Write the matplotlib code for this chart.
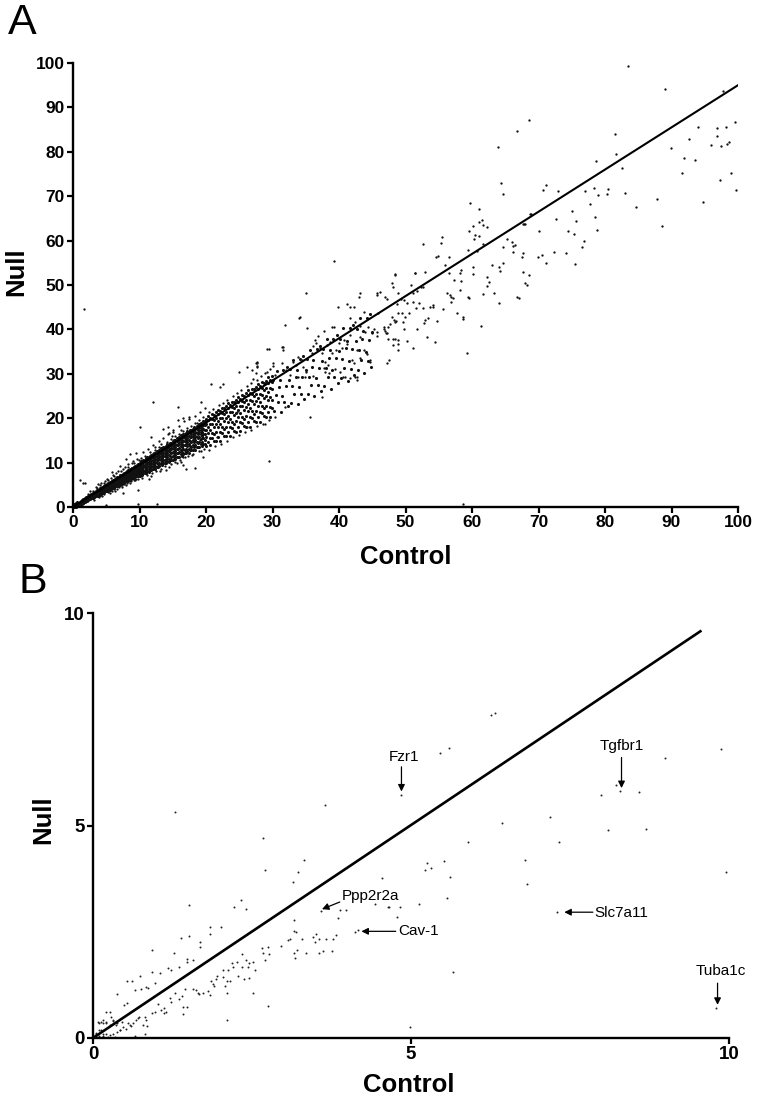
import numpy as np
import matplotlib
matplotlib.use("Agg")
import matplotlib.pyplot as plt

plt.rcParams['font.family'] = ['Liberation Sans', 'DejaVu Sans']

# ---------------- Panel A data (Control vs Null, 0-100) ----------------
# dense core, x 0-3
a_core0 = [(0.05,0.0),(0.1,0.1),(0.15,0.3),(0.2,0.05),(0.2,0.7),(0.25,0.4),(0.3,0.2),(0.35,0.6),(0.4,0.3),(0.4,0.9),
           (0.45,0.1),(0.5,0.5),(0.55,0.8),(0.6,0.4),(0.6,1.2),(0.65,0.2),(0.7,0.7),(0.75,0.5),(0.8,1.0),(0.85,0.6),
           (0.9,0.3),(0.95,0.9),(1.0,0.8),(1.05,1.2),(1.1,0.6),(1.15,1.0),(1.2,0.9),(1.25,1.4),(1.3,0.7),(1.35,1.1),
           (1.4,1.5),(1.45,0.9),(1.5,1.3),(1.55,1.7),(1.6,1.1),(1.65,1.4),(1.7,1.9),(1.75,1.2),(1.8,1.6),(1.85,2.0),
           (1.9,1.3),(1.95,1.7),(2.0,2.2),(2.05,1.5),(2.1,1.8),(2.15,2.3),(2.2,1.6),(2.25,2.0),(2.3,2.5),(2.35,1.7),
           (2.4,2.1),(2.45,2.6),(2.5,1.9),(2.55,2.3),(2.6,2.8),(2.65,2.0),(2.7,2.4),(2.75,2.9),(2.8,2.1),(2.85,2.6),
           (2.9,3.0),(2.95,2.3),(0.1,0.25),(0.3,0.45),(0.5,0.3),(0.7,0.45),(0.9,0.75),(1.1,0.9),(1.3,1.2),(1.5,1.0),
           (1.7,1.5),(1.9,1.75),(2.1,1.4),(2.3,2.1),(2.5,2.35),(2.7,2.15),(2.9,2.6),(1.0,0.5),(1.4,1.2),(1.8,1.4),
           (2.2,2.0),(2.6,2.5),(2.8,2.4),(0.6,0.7),(0.8,0.5),(1.2,1.15)]
# dense core columns, x 3-10 : (control, [null values])
a_core1 = [(3.0,[2.07,2.40,2.68,2.90,3.10]),(3.1,[2.26,2.60,2.82,3.09,3.25]),(3.2,[2.17,2.47,2.77,3.00,3.24]),
           (3.3,[2.48,2.70,3.04,3.23,3.41]),(3.4,[2.43,2.68,2.98,3.23,3.45]),(3.5,[2.44,2.81,3.12,3.36,3.59]),
           (3.6,[2.65,3.02,3.27,3.56,3.74]),(3.7,[2.54,2.87,3.19,3.45,3.71]),(3.8,[2.87,3.11,3.48,3.69,3.89]),
           (3.9,[2.81,3.08,3.42,3.69,3.93]),(4.0,[2.81,3.21,3.55,3.81,4.06]),(4.1,[3.04,3.44,3.71,4.03,4.22]),
           (4.2,[2.91,3.27,3.62,3.90,4.19]),(4.3,[3.27,3.53,3.93,4.16,4.38]),(4.4,[3.19,3.48,3.85,4.14,4.40]),
           (4.5,[3.19,3.62,4.00,4.28,4.55]),(4.6,[3.43,3.86,4.15,4.50,4.71]),(4.7,[3.28,3.66,4.05,4.35,4.66]),
           (4.8,[3.66,3.94,4.37,4.62,4.85]),(4.9,[3.57,3.89,4.28,4.60,4.88]),(5.0,[3.56,4.03,4.43,4.73,5.02]),
           (5.1,[3.81,4.28,4.59,4.96,5.19]),(5.2,[3.65,4.06,4.48,4.81,5.14]),(5.3,[4.05,4.35,4.82,5.09,5.34]),
           (5.4,[3.95,4.29,4.71,5.05,5.35]),(5.5,[3.94,4.44,4.87,5.19,5.50]),(5.6,[4.20,4.71,5.04,5.44,5.68]),
           (5.7,[4.02,4.46,4.90,5.25,5.60]),(5.8,[4.45,4.77,5.26,5.55,5.82]),(5.9,[4.33,4.69,5.15,5.51,5.84]),
           (6.0,[4.31,4.84,5.30,5.65,5.98]),(6.1,[4.59,5.12,5.48,5.90,6.16]),(6.2,[4.39,4.86,5.33,5.71,6.08]),
           (6.3,[4.84,5.18,5.71,6.02,6.30]),(6.4,[4.71,5.10,5.58,5.96,6.31]),(6.5,[4.69,5.25,5.74,6.11,6.46]),
           (6.6,[4.98,5.55,5.92,6.37,6.65]),(6.7,[4.76,5.26,5.76,6.15,6.55]),(6.8,[5.23,5.59,6.16,6.48,6.78]),
           (6.9,[5.09,5.50,6.01,6.42,6.79]),(7.0,[5.06,5.66,6.17,6.57,6.94]),(7.1,[5.36,5.97,6.36,6.84,7.13]),
           (7.2,[5.13,5.66,6.19,6.61,7.03]),(7.3,[5.63,6.01,6.61,6.95,7.27]),(7.4,[5.47,5.90,6.44,6.87,7.26]),
           (7.5,[5.44,6.07,6.61,7.03,7.42]),(7.6,[5.75,6.39,6.81,7.31,7.62]),(7.7,[5.50,6.06,6.61,7.05,7.50]),
           (7.8,[6.02,6.42,7.05,7.41,7.74]),(7.9,[5.85,6.31,6.88,7.33,7.74]),(8.0,[5.81,6.48,7.05,7.48,7.90]),
           (8.1,[6.14,6.81,7.25,7.78,8.10]),(8.2,[5.87,6.46,7.04,7.51,7.98]),(8.3,[6.41,6.84,7.50,7.88,8.23]),
           (8.4,[6.23,6.71,7.31,7.78,8.21]),(8.5,[6.19,6.89,7.49,7.95,8.38]),(8.6,[6.52,7.23,7.69,8.25,8.59]),
           (8.7,[6.24,6.85,7.47,7.96,8.45]),(8.8,[6.80,7.25,7.94,8.34,8.71]),(8.9,[6.61,7.12,7.74,8.24,8.69]),
           (9.0,[6.56,7.29,7.92,8.40,8.85]),(9.1,[6.91,7.65,8.13,8.71,9.07]),(9.2,[6.61,7.25,7.90,8.41,8.92]),
           (9.3,[7.20,7.66,8.39,8.80,9.19]),(9.4,[6.99,7.52,8.17,8.69,9.16]),(9.5,[6.94,7.70,8.36,8.86,9.34]),
           (9.6,[7.30,8.07,8.58,9.19,9.56]),(9.7,[6.98,7.65,8.32,8.86,9.39]),(9.8,[7.59,8.08,8.83,9.26,9.67]),
           (9.9,[7.38,7.92,8.60,9.15,9.64])]
# dense band columns, x 10-20
a_core2 = [(10.0,[7.00,7.67,8.34,8.92,9.46,9.97]),(10.2,[7.43,8.11,8.73,9.32,9.87,10.29]),
           (10.4,[7.19,7.78,8.51,9.10,9.70,10.23]),(10.6,[7.60,8.30,8.94,9.57,10.14,10.61]),
           (10.8,[7.65,8.19,8.94,9.55,10.13,10.68]),(11.0,[7.72,8.45,9.17,9.79,10.38,10.93]),
           (11.2,[8.18,8.92,9.58,10.21,10.81,11.26]),(11.4,[7.91,8.55,9.33,9.97,10.61,11.18]),
           (11.6,[8.34,9.09,9.78,10.46,11.07,11.58]),(11.8,[8.38,8.97,9.77,10.43,11.05,11.63]),
           (12.0,[8.45,9.23,10.01,10.67,11.30,11.89]),(12.2,[8.93,9.72,10.43,11.11,11.74,12.23]),
           (12.4,[8.63,9.31,10.15,10.83,11.52,12.13]),(12.6,[9.08,9.89,10.62,11.35,12.00,12.54]),
           (12.8,[9.12,9.74,10.60,11.30,11.96,12.59]),(13.0,[9.18,10.01,10.84,11.55,12.22,12.85]),
           (13.2,[9.68,10.52,11.28,12.00,12.68,13.20]),(13.4,[9.35,10.08,10.97,11.70,12.43,13.08]),
           (13.6,[9.82,10.68,11.46,12.24,12.93,13.51]),(13.8,[9.85,10.51,11.42,12.17,12.88,13.54]),
           (14.0,[9.91,10.79,11.67,12.43,13.14,13.81]),(14.2,[10.43,11.32,12.13,12.90,13.62,14.17]),
           (14.4,[10.07,10.84,11.79,12.56,13.34,14.03]),(14.6,[10.56,11.47,12.30,13.12,13.86,14.47]),
           (14.8,[10.58,11.28,12.25,13.04,13.79,14.50]),(15.0,[10.63,11.57,12.50,13.30,14.06,14.77]),
           (15.2,[11.18,12.13,12.98,13.79,14.56,15.14]),(15.4,[10.79,11.61,12.61,13.43,14.25,14.98]),
           (15.6,[11.30,12.26,13.14,14.01,14.79,15.44]),(15.8,[11.31,12.06,13.08,13.92,14.71,15.45]),
           (16.0,[11.36,12.35,13.34,14.18,14.98,15.73]),(16.2,[11.93,12.93,13.83,14.69,15.49,16.11]),
           (16.4,[11.51,12.37,13.43,14.29,15.16,15.93]),(16.6,[12.04,13.06,13.98,14.90,15.72,16.40]),
           (16.8,[12.05,12.83,13.91,14.79,15.62,16.41]),(17.0,[12.09,13.13,14.17,15.06,15.90,16.69]),
           (17.2,[12.68,13.73,14.68,15.58,16.43,17.08]),(17.4,[12.23,13.14,14.25,15.16,16.07,16.88]),
           (17.6,[12.78,13.85,14.82,15.79,16.65,17.37]),(17.8,[12.78,13.60,14.73,15.66,16.54,17.36]),
           (18.0,[12.82,13.91,15.00,15.94,16.82,17.65]),(18.2,[13.43,14.53,15.53,16.48,17.37,18.05]),
           (18.4,[12.95,13.90,15.07,16.02,16.98,17.83]),(18.6,[13.52,14.64,15.66,16.67,17.58,18.33]),
           (18.8,[13.51,14.37,15.56,16.53,17.45,18.32]),(19.0,[13.54,14.69,15.83,16.81,17.74,18.61]),
           (19.2,[14.18,15.34,16.38,17.37,18.31,19.02]),(19.4,[13.67,14.67,15.89,16.89,17.89,18.78]),
           (19.6,[14.26,15.43,16.50,17.56,18.51,19.30]),(19.8,[14.24,15.15,16.39,17.41,18.37,19.27])]
# band columns, x 20-30
a_core3 = [(20.0,[13.77,15.71,17.39,18.66,19.87]),(20.3,[14.73,16.69,17.98,19.54,20.49]),
           (20.6,[13.92,15.64,17.35,18.72,20.09]),(20.9,[15.52,16.77,18.71,19.82,20.86]),
           (21.2,[14.97,16.38,18.13,19.53,20.80]),(21.5,[14.83,16.90,18.67,20.02,21.30]),
           (21.8,[15.84,17.92,19.29,20.94,21.95]),(22.1,[14.97,16.79,18.61,20.06,21.51]),
           (22.4,[16.65,17.97,20.03,21.21,22.31]),(22.7,[16.06,17.54,19.40,20.89,22.23]),
           (23.0,[15.90,18.08,19.96,21.38,22.73]),(23.3,[16.95,19.15,20.59,22.34,23.40]),
           (23.6,[16.02,17.94,19.86,21.39,22.92]),(23.9,[17.78,19.18,21.35,22.59,23.75]),
           (24.2,[17.14,18.71,20.67,22.23,23.64]),(24.5,[16.97,19.26,21.24,22.75,24.17]),
           (24.8,[18.06,20.38,21.90,23.74,24.86]),(25.1,[17.07,19.09,21.11,22.73,24.34]),
           (25.4,[18.91,20.38,22.67,23.97,25.20]),(25.7,[18.23,19.88,21.94,23.59,25.07]),
           (26.0,[18.03,20.45,22.53,24.11,25.60]),(26.3,[19.17,21.61,23.20,25.13,26.31]),
           (26.6,[18.12,20.24,22.36,24.06,25.75]),(26.9,[20.04,21.58,23.98,25.35,26.63]),
           (27.2,[19.32,21.05,23.21,24.93,26.49]),(27.5,[19.10,21.63,23.81,25.47,27.04]),
           (27.8,[20.28,22.84,24.51,26.54,27.77]),(28.1,[19.17,21.39,23.62,25.39,27.17]),
           (28.4,[21.17,22.79,25.30,26.74,28.08]),(28.7,[20.40,22.21,24.48,26.29,27.92]),
           (29.0,[20.17,22.81,25.10,26.83,28.47]),(29.3,[21.39,24.06,25.81,27.93,29.22]),
           (29.6,[20.22,22.54,24.87,26.72,28.58]),(29.9,[22.30,23.99,26.61,28.11,29.52])]
# band points, x 30-45
a_core4 = [(30.3,21.71),(30.5,25.20),(30.15,28.69),(30.8,23.59),(31.0,27.13),(30.65,30.67),(31.3,21.41),(31.5,25.00),
           (31.15,28.59),(31.8,23.63),(32.0,27.16),(31.65,30.90),(32.3,22.64),(32.5,28.63),(32.15,31.58),(32.8,23.53),
           (33.0,27.26),(32.65,30.99),(33.3,25.51),(33.5,29.28),(33.15,33.06),(33.8,23.16),(34.0,26.99),(33.65,30.81),
           (34.3,25.50),(34.5,29.26),(34.15,33.24),(34.8,24.42),(35.0,30.80),(34.65,33.94),(35.3,25.34),(35.5,29.31),
           (35.15,33.27),(35.8,27.43),(36.0,31.44),(35.65,35.46),(36.3,24.91),(36.5,28.97),(36.15,33.03),(36.8,27.37),
           (37.0,31.36),(36.65,35.59),(37.3,26.20),(37.5,32.97),(37.15,36.29),(37.8,27.16),(38.0,31.36),(37.65,35.57),
           (38.3,29.35),(38.5,33.59),(38.15,37.84),(38.8,26.66),(39.0,30.96),(38.65,35.26),(39.3,29.24),(39.5,33.46),
           (39.15,37.93),(39.8,27.99),(40.0,35.14),(39.65,38.66),(40.3,28.98),(40.5,33.42),(40.15,37.85),(40.8,31.27),
           (41.0,35.75),(40.65,40.24),(41.3,28.41),(41.5,32.94),(41.15,37.48),(41.8,31.12),(42.0,35.57),(41.65,40.28),
           (42.3,29.77),(42.5,37.31),(42.15,41.01),(42.8,30.80),(43.0,35.47),(42.65,40.15),(43.3,33.18),(43.5,37.90),
           (43.15,42.63),(43.8,30.16),(44.0,34.93),(43.65,39.70),(44.3,32.99),(44.5,37.67),(44.15,42.62),(44.8,31.56),
           (45.0,39.48),(44.65,43.37)]
# scattered points around the core
a_scatter = [(3.5,4.6),(4.2,5.3),(5.1,6.3),(6.0,7.2),(6.8,8.0),(7.5,8.6),(8.3,9.6),(9.0,10.3),(9.6,10.9),(4.4,2.5),
             (5.5,3.2),(6.6,4.0),(7.4,4.6),(8.5,5.4),(9.3,6.0),(8.0,10.9),(8.6,11.9),(9.4,12.2),(7.0,9.3),(5.9,7.8),
             (6.3,3.6),(7.9,5.0),(9.7,6.4),(2.5,3.6),(3.8,5.1),(4.8,5.9),
             (2.2,3.0),(3.0,3.7),(3.6,4.3),(4.6,5.4),(5.3,6.1),(6.2,7.0),(6.5,7.6),(7.2,8.2),(7.8,8.9),(8.2,9.1),
             (8.8,9.8),(9.2,10.0),(9.9,10.6),(5.7,6.6),(4.0,4.9),(3.2,1.6),(3.9,2.3),(4.7,2.9),(5.2,3.3),(5.8,3.7),
             (6.1,4.1),(6.9,4.4),(7.3,4.9),(7.7,5.2),(8.1,5.4),(8.7,5.8),(9.1,6.1),(9.5,6.4),(9.9,6.9),
             (10.3,11.0),(10.9,11.4),(11.6,12.3),(12.3,12.9),(12.9,13.6),(13.3,14.1),(14.1,14.6),(14.7,15.4),(15.3,16.0),
             (15.9,16.4),(16.6,17.1),(17.1,17.9),(17.7,18.3),(18.4,18.9),(18.9,19.6),(19.5,20.2),(10.4,6.6),(11.1,7.2),
             (11.9,7.6),(12.5,8.1),(13.3,8.6),(13.9,9.3),(14.7,9.7),(15.3,10.1),(16.1,10.6),(16.8,11.2),(17.3,11.5),
             (18.1,12.0),(18.9,12.6),(19.7,13.1),(20.4,21.3),(21.1,22.0),(21.9,22.9),(22.5,23.4),(23.2,24.0),(24.0,25.1),
             (24.6,25.6),(25.3,26.4),(26.1,27.3),(26.8,27.9),(27.6,28.6),(28.3,29.5),(29.1,30.3),(20.5,12.9),(21.3,13.8),
             (22.2,14.2),(23.1,14.9),(24.0,15.7),(24.9,16.2),(25.8,16.9),(26.7,17.4),(27.6,18.2),(28.5,18.6),(29.4,19.5),
             (10.5,12.3),(11.3,13.1),(12.1,14.0),(13.0,14.8),(13.6,15.6),(14.3,16.4),(15.1,17.0),(15.9,18.2),(16.7,19.3),
             (17.5,19.8),(18.3,20.6),(19.1,21.4),(19.9,22.3),(11.8,7.0),(13.1,8.0),(14.5,9.0),(15.7,10.0),(16.5,11.2),
             (17.9,11.8),(19.3,12.6),(12.4,13.6),(14.9,16.0),(16.2,17.4),(18.7,19.0),(11.5,6.2),(14.0,8.4),
             (1.65,44.5),(1.05,6.1),(1.5,5.3),(1.8,5.3),(5.0,0.45),(9.8,0.7),(12.6,0.7),(9.8,3.8),(12.1,23.7),(15.8,22.6),
             (10.1,18.1),(29.4,10.4),(17.0,8.5),(19.6,11.3),(11.8,15.7),(13.5,17.5),(14.3,18.1),(14.5,16.6),(15.0,17.3),
             (15.8,19.6),(16.5,20.0),(17.5,20.2),(18.3,8.7),(16.3,10.2),(16.5,9.5),(19.2,23.7),(7.5,3.1)]
a_mid = [(39.3,55.5),(35.1,48.3),(31.9,41.1),(34.0,42.6),(35.2,40.3),(29.2,35.6),(43.2,48.1),(43.0,47.4),(45.7,47.7),
         (46.2,48.4),(46.9,47.2),(47.2,46.8),(48.7,45.7),(39.9,45.1),(41.2,45.7),(42.2,45.1),(43.8,44.0),(45.9,43.8),
         (41.7,42.6),(42.4,41.7),(43.2,40.8),(44.4,40.6),(45.3,40.0),(46.7,40.6),(47.2,39.1),(48.4,41.7),(41.7,38.7),
         (43.2,38.4),(43.9,39.5),(44.9,39.1),(45.7,38.5),(42.7,35.4),(43.7,35.4),(44.2,34.5),(44.7,32.7),(41.9,33.1),
         (43.2,33.5),(42.3,32.5),(40.4,35.7),(40.0,37.0),(41.2,36.7),(39.0,40.6),(39.2,40.5),(37.7,39.7),(36.9,38.5),
         (36.4,37.6),(38.6,37.2),(38.2,36.4),(38.9,34.6),(39.6,35.4),(40.8,37.6),(37.9,30.5),(38.5,30.1),(37.7,31.2),
         (40.2,30.5),(39.4,31.0),(41.7,29.0),(42.7,29.3),(40.6,29.3),(27.6,32.5),(27.7,31.6),(27.5,30.1),(28.9,30.1),
         (29.6,31.0),(30.0,32.4),(30.4,29.7),(31.5,32.4),(31.6,35.4),(31.4,36.1),(33.1,32.7),(33.6,32.0),(33.9,33.7),
         (34.4,33.1),(34.6,31.6),(35.0,30.5),(35.9,34.6),(36.1,36.3),(36.6,36.9),(37.1,35.7),(37.4,34.6),(37.9,32.7),
         (38.4,32.0),(34.9,29.3),(36.1,29.5),(36.6,29.0),(33.9,29.3),(32.6,29.7),(32.1,30.9),(28.9,18.7),(30.4,20.3),
         (31.9,22.6),(35.6,20.3),(37.4,24.8),(40.9,29.3),(42.4,29.2),(42.7,28.6),(44.7,33.1),(45.7,39.5),(34.1,42.9),
         (41.7,45.1),(45.7,48.1),(22.1,27.1),(26.9,30.9),(27.6,32.7),(29.4,35.5),(30.1,31.8),(31.6,36.0),(24.6,21.5),
         (26.1,18.1),(23.9,17.7),(21.6,15.8),(19.1,15.1),(20.8,27.7),(22.6,27.6),(24.9,30.3),(26.1,31.5),(27.1,28.8),
         (27.5,32.5),(27.7,31.8)]
a_sparse = [(83.5,99.4),(89.0,94.1),(97.8,93.8),(99.6,86.8),(68.5,87.2),(66.7,84.7),(63.9,81.0),(81.5,84.0),(94.0,85.6),
            (96.8,85.4),(98.2,85.5),(96.9,83.6),(92.7,82.9),(96.0,81.5),(97.5,81.2),(98.4,81.7),(98.6,82.1),(89.9,80.9),
            (81.7,79.6),(91.9,78.6),(93.5,78.2),(78.6,77.9),(82.6,76.3),(91.6,75.2),(98.9,75.2),(97.3,73.7),(99.7,71.5),
            (64.4,73.0),(64.6,70.4),(71.1,72.6),(70.7,71.4),(72.9,71.2),(77.0,71.2),(78.3,71.8),(80.5,71.6),(79.0,70.3),
            (80.3,70.4),(83.0,70.7),(77.7,68.2),(87.8,69.4),(84.7,67.6),(94.7,68.6),(88.6,63.4),(59.7,68.4),(61.1,67.2),
            (68.7,66.1),(67.9,63.8),(72.6,64.9),(75.0,66.7),(75.6,64.5),(78.5,65.4),(78.8,62.3),(74.5,62.1),(75.3,61.4),
            (70.1,62.2),(76.9,59.8),(76.5,58.5),(59.5,62.1),(60.2,63.3),(60.5,61.3),(61.1,61.1),(60.3,60.4),(61.1,64.2),
            (61.5,64.6),(61.6,63.5),(62.3,63.1),(61.6,59.2),(64.6,58.6),(65.2,60.4),(66.0,59.6),(66.4,58.9),(66.2,58.7),
            (66.2,57.4),(67.6,57.1),(67.5,56.4),(69.9,56.4),(70.6,56.8),(72.3,57.4),(74.2,57.1),(59.4,57.9),(60.7,57.7),
            (67.6,63.7),(67.8,63.8),(68.8,66.1),(52.6,59.2),(55.5,60.8),(55.4,59.5),(54.6,56.2),(54.9,56.5),(56.5,56.2),
            (48.4,52.3),(51.5,52.7),(52.9,52.9),(47.2,32.4),(47.5,33.1),(59.2,34.6),(61.3,40.8),(58.7,0.6),(51.1,35.7),
            (54.4,37.2),(53.2,38.4),(50.3,37.4),(48.9,37.6),(48.4,37.8),(48.1,37.8),(48.9,36.7),(48.1,36.5),(48.9,35.4),
            (47.3,37.8),(46.7,40.2),(46.9,39.7),(47.1,39.1),(47.4,40.6),(47.7,41.2),(48.2,42.1),(48.6,42.0),(47.9,42.9),
            (49.7,40.2),(51.7,40.0),(52.9,42.1),(53.4,42.5),(52.8,41.4),(54.8,42.0),(58.6,42.9),(58.6,42.3),(57.8,43.6),
            (53.7,45.1),(54.1,45.5),(54.2,45.0),(52.7,44.8),(55.7,44.5),(50.6,43.6),(49.9,42.9),(49.4,43.6),(49.6,41.7),
            (48.9,43.6),(50.2,45.9),(51.2,46.2),(51.6,44.8),(52.1,45.9),(48.4,52.4),(47.9,50.5),(48.1,49.6),(48.9,48.1),
            (49.3,46.8),(49.7,46.6),(50.9,50.0),(51.4,52.6),(51.2,48.1),(51.8,48.7),(52.3,49.5),(52.6,49.6),(55.9,54.5),
            (56.6,52.6),(56.2,48.1),(56.7,47.7),(56.9,47.4),(56.9,46.2),(57.3,51.1),(57.2,47.0),(58.2,52.6),(58.4,53.4),
            (58.3,51.0),(58.2,48.9),(59.4,47.2),(59.6,47.0),(60.1,54.1),(60.1,52.4),(61.6,48.0),(62.3,51.9),(62.5,50.7),
            (62.3,49.8),(63.3,48.1),(64.0,45.9),(63.0,54.6),(64.1,54.1),(64.2,53.2),(64.6,55.0),(66.7,47.4),(67.1,47.0),
            (67.6,53.0),(68.5,52.3),(68.0,50.5),(68.2,50.0),(71.1,55.0),(75.5,54.7)]
a_line_x = [0, 100]
a_line_y = [0, 95]
a_ticks = [0, 10, 20, 30, 40, 50, 60, 70, 80, 90, 100]

# ---------------- Panel B data (zoom 0-10) ----------------
b_points = [(2.68,4.70),(2.71,3.95),(3.31,4.19),(3.22,3.91),(3.15,3.66),(1.51,3.12),(2.32,3.25),(2.22,3.09),(2.41,3.03),
            (1.38,2.36),(1.51,2.39),(1.84,2.62),(1.84,2.45),(2.02,2.62),(1.68,2.25),(1.68,2.13),(0.92,2.07),(1.28,1.99),
            (1.48,1.86),(1.48,1.80),(1.58,1.84),(1.18,1.64),(1.22,1.60),(1.35,1.66),(0.74,1.47),(0.93,1.56),(1.05,1.52),
            (0.54,1.33),(0.62,1.33),(0.84,1.21),(0.86,1.17),(0.75,1.15),(0.66,1.13),(0.98,1.29),(0.38,1.04),(0.54,0.82),
            (0.48,0.78),(0.21,0.62),(0.27,0.62),(0.08,0.38),(0.12,0.37),(0.16,0.36),(0.20,0.38),(0.0,0.07),(0.05,0.12),
            (0.10,0.05),(0.15,0.10),(0.29,0.50),(0.32,0.41),(0.38,0.35),(0.45,0.38),(0.47,0.27),(0.52,0.22),(0.37,0.15),
            (0.42,0.19),(0.58,0.30),(0.63,0.35),(0.67,0.42),(0.71,0.46),(0.73,0.49),(0.79,0.31),(0.81,0.50),(0.83,0.42),
            (0.85,0.28),(0.81,0.09),(0.93,0.60),(0.97,0.62),(1.02,0.80),(1.07,0.66),(1.11,0.70),(1.14,0.62),(1.12,0.60),
            (1.21,0.93),(1.22,0.85),(1.29,1.07),(1.35,0.91),(1.40,1.00),(1.42,0.57),(1.48,0.73),(1.42,0.74),(1.44,1.16),
            (1.57,1.15),(1.62,1.13),(1.65,1.07),(1.67,1.04),(1.73,1.07),(1.81,1.11),(1.84,1.01),(1.89,1.27),(1.91,1.22),
            (1.94,1.38),(1.86,1.35),(1.95,1.46),(2.05,1.44),(2.10,1.35),(2.15,1.33),(2.08,1.22),(2.10,1.05),(2.05,1.60),
            (2.12,1.60),(2.18,1.76),(2.26,1.80),(2.20,1.66),(2.28,1.46),(2.35,1.97),(2.41,1.83),(2.35,1.68),(2.45,1.77),
            (2.44,1.68),(2.52,1.80),(2.54,1.60),(2.52,1.05),(2.45,1.42),(2.38,1.40),(2.65,2.11),(2.68,1.99),(2.75,2.15),
            (2.76,1.97),(2.71,1.83),(2.75,0.76),(2.11,0.42),(2.95,2.16),(3.06,2.31),(3.09,2.32),(3.18,1.89),(3.21,2.07),
            (3.16,2.01),(3.16,2.78),(3.16,2.52),(3.19,2.50),(3.28,2.32),(3.35,1.99),(3.46,2.37),(3.51,2.45),(3.49,2.27),
            (3.55,2.32),(3.55,1.99),(3.62,2.05),(3.67,2.32),(3.75,2.05),(3.78,2.32),(3.82,2.42),(3.85,2.82),(3.89,3.01),
            (3.98,3.01),(3.58,3.00),(4.12,2.50),(4.16,2.54),(4.55,3.76),(4.44,3.15),(4.65,3.09),(6.43,5.05),(8.09,4.89),
            (8.69,4.92),(5.89,4.62),(7.33,4.62),(5.25,4.12),(5.31,3.99),(5.22,3.95),(5.52,4.16),(5.61,3.80),(6.79,4.19),
            (6.82,3.62),(9.96,3.90),(4.64,3.09),(4.82,3.09),(4.78,2.85),(5.13,3.15),(5.56,3.29),(7.29,2.96),(5.66,1.56),
            (4.98,0.27),(9.79,0.70),(6.25,7.60),(6.32,7.65),(5.46,6.70),(5.59,6.83),(4.85,5.72),(9.88,6.79),(8.99,6.60),
            (8.22,5.95),(8.29,5.82),(8.59,5.80),(7.99,5.72),(7.19,5.19),(1.29,5.32),(3.65,5.48),
            (0.10,0.35),(0.15,0.42),(0.20,0.35),(0.26,0.30),(0.31,0.42),(0.36,0.30),(0.13,0.18),(0.21,0.10),(0.26,0.06),
            (0.31,0.10),(0.42,0.20),(0.55,0.35),(0.60,0.28),(0.66,0.05),(0.10,0.20),(0.04,0.10),(0.16,0.04),(0.24,0.02),
            (0.35,0.03)]
b_line_x = [0, 9.55]
b_line_y = [0, 9.57]
b_ticks = [0, 5, 10]
b_labels = ['Fzr1', 'Tgfbr1', 'Ppp2r2a', 'Cav-1', 'Slc7a11', 'Tuba1c']
b_label_xy = [(4.89, 6.61), (8.32, 6.86), (3.91, 3.34), (4.80, 2.52), (7.89, 2.95), (9.87, 1.58)]
b_label_ha = ['center', 'center', 'left', 'left', 'left', 'center']
b_arrow_tail = [(4.85, 6.38), (8.31, 6.60), (3.88, 3.20), (4.76, 2.51), (7.86, 2.96), (9.82, 1.29)]
b_arrow_head = [(4.85, 5.80), (8.31, 5.88), (3.60, 3.03), (4.22, 2.51), (7.41, 2.96), (9.82, 0.78)]

# ---------------- assemble panel A arrays ----------------
dx, dy = [], []
for x, y in a_core0 + a_core4:
    dx.append(x); dy.append(y)
for group in (a_core1, a_core2, a_core3):
    for x, ys in group:
        for y in ys:
            dx.append(x); dy.append(y)
lx, ly = [], []
for group in (a_scatter, a_mid, a_sparse):
    for x, y in group:
        lx.append(x); ly.append(y)
b_x = np.array([p[0] for p in b_points])
b_y = np.array([p[1] for p in b_points])

W, H = 759, 1101
fig = plt.figure(figsize=(W / 100, H / 100), dpi=100)
fig.patch.set_facecolor('white')


def px_axes(l, r, t, b):
    return fig.add_axes([l / W, 1 - b / H, (r - l) / W, (b - t) / H])


def style(ax, fs):
    for s in ('top', 'right'):
        ax.spines[s].set_visible(False)
    for s in ('left', 'bottom'):
        ax.spines[s].set_linewidth(1.7)
    ax.tick_params(direction='out', length=4.5, width=1.6, labelsize=fs, pad=1.5)
    for lab in ax.get_xticklabels() + ax.get_yticklabels():
        lab.set_fontweight('bold')
    ax.set_facecolor('white')


# Panel A
axA = px_axes(73, 738, 63, 507)
axA.scatter(dx, dy, s=5.0, c='#111111', linewidths=0, clip_on=False, zorder=2)
axA.scatter(lx, ly, s=2.8, c='#111111', linewidths=0, clip_on=False, zorder=2)
axA.plot(a_line_x, a_line_y, color='black', lw=1.5, zorder=3)
axA.set_xlim(0, 100)
axA.set_ylim(0, 100)
axA.set_xticks(a_ticks)
axA.set_yticks(a_ticks)
style(axA, 12.5)
fig.text(406 / W, 1 - 557 / H, 'Control', ha='center', va='center', fontsize=18.5, fontweight='bold')
fig.text(16 / W, 1 - 272 / H, 'Null', ha='center', va='center', rotation=90, fontsize=18.5, fontweight='bold')
fig.text(8 / W, 1 - 3 / H, 'A', ha='left', va='top', fontsize=31)

# Panel B
axB = px_axes(93, 729, 613, 1038)
axB.scatter(b_x, b_y, s=2.0, c='#222222', linewidths=0, clip_on=False, zorder=2)
axB.plot(b_line_x, b_line_y, color='black', lw=1.9, zorder=3)
axB.set_xlim(0, 10)
axB.set_ylim(0, 10)
axB.set_xticks(b_ticks)
axB.set_yticks(b_ticks)
style(axB, 13.5)
for lab, (tx, ty), ha, tail, head in zip(b_labels, b_label_xy, b_label_ha, b_arrow_tail, b_arrow_head):
    axB.text(tx, ty, lab, ha=ha, va='center', fontsize=11)
    axB.annotate('', xy=head, xytext=tail,
                 arrowprops=dict(arrowstyle='-|>', color='black', lw=0.9, mutation_scale=10,
                                 shrinkA=0, shrinkB=0))
fig.text(409 / W, 1 - 1085 / H, 'Control', ha='center', va='center', fontsize=18.5, fontweight='bold')
fig.text(43 / W, 1 - 820 / H, 'Null', ha='center', va='center', rotation=90, fontsize=18.5, fontweight='bold')
fig.text(18 / W, 1 - 562 / H, 'B', ha='left', va='top', fontsize=31)

fig.savefig('out.png', dpi=100, facecolor='white')
